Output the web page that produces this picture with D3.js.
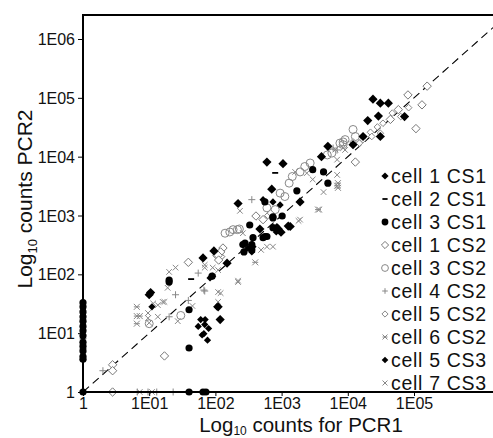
<!DOCTYPE html>
<html><head><meta charset="utf-8">
<script src="https://cdn.jsdelivr.net/npm/d3@7"></script>
<style>body{margin:0;background:#fff}svg{display:block;font-family:"Liberation Sans",Arial,sans-serif}</style>
</head><body><svg id="c" width="493" height="438"></svg>
<script>
// ---- data (counts: [PCR1, PCR2]) ----
const cell1CS1 = [[10,45],[10.5,49],[65,190],[95,250],[150,155],[118,17],[110,28],[220,1600],[600,8100],[1050,7600],[5000,15000],[4000,10000],[24000,95000],[31000,81000],[41000,81000],[29000,49000],[20000,41000],[72000,48000],[31000,22000],[17000,22000],[710,2800],[1900,1700],[1260,660],[890,590],[980,520],[1350,650],[470,590],[12000,16000]];
const cell2CS1 = [[1,11],[1,14],[1,21],[1,26],[43,83],[800,5300]];
const cell3CS1 = [[1,3.6],[1,4],[1,5],[1,6],[1,7],[1,9],[1,11],[1,13],[1,16],[1,19],[1,23],[1,28],[1,33],[1,1],[40,1],[65,1],[72,1],[40,5.6],[40,25],[20,74],[20,80],[89,93],[330,690],[600,440],[525,420],[280,340],[355,320],[355,260],[270,240],[260,320],[370,420],[560,440],[740,620],[740,910],[2950,6000],[4300,5500],[5000,3550],[1700,2630],[560,1700],[740,950],[1020,980]];
const cell1CS2 = [[2.8,2.9],[2.8,2.3],[2.8,1],[17,4.1],[39,160],[105,210],[120,200],[525,850],[410,980],[130,280],[120,240],[110,210],[112,175],[13000,8100],[158000,158000],[132000,76000],[107000,30000],[81000,112000],[58000,63000],[44000,43000]];
const cell3CS2 = [[10,14.5],[30,20],[140,500],[165,525],[185,575],[215,575],[230,590],[4900,10700],[5750,11500],[7600,17000],[8500,17800],[2700,7800],[2240,6800],[1900,5500],[1450,4600],[1300,3550],[950,2400],[1120,2100],[600,1350],[800,1260],[12000,29000],[13000,22000],[9100,19500],[8500,16000]];
const cell4CS2 = [[55,105],[69,52],[25,45],[39,36],[20,19],[355,1860],[67,54],[6.6,1],[9.6,1],[13,1],[23,1],[6900,13000],[6000,14000],[2,2.3],[1,3.5]];
const cell5CS2 = [[83000,68000],[47000,55000],[63000,48000],[34000,37000],[28000,32000],[22000,26000],[23000,22000],[31000,25000],[17000,19500],[15000,17000],[12000,17800],[1,8],[1,5.5],[620,1000],[680,1100]];
const cell6CS2 = [[6.5,28],[6.5,19.5],[6.5,14.5],[7.2,19.5],[7100,3550],[6900,3200],[7100,2950],[400,160],[3550,1260]];
const cell5CS3 = [[60,17],[70,17],[69,14],[55,13],[79,12],[63,9.3],[76,7.6],[67,9.8],[11,28],[91,93],[83,87],[105,28],[525,1860],[740,1700],[950,1510],[850,650],[310,280],[355,240],[370,295],[830,525]];
const cell7CS3 = [[9.6,22],[9.6,18],[10,15],[13.5,30],[16,34],[13.5,19],[27,16],[20,110],[25,130],[19,59],[17,34],[11.5,32],[45,29],[110,50],[110,34],[120,48],[220,74],[69,145],[235,1200],[260,500],[1800,810],[600,295],[740,295],[490,260],[91,130],[110,118],[220,78],[69,130],[1600,5500],[2400,5250],[2950,4100],[6500,13200],[6900,8900],[6900,4900],[4300,2500],[3700,1260],[1900,850],[8500,14000],[9100,13000],[7.2,1],[11,1]];

const seriesNames = ["cell 1 CS1","cell 2 CS1","cell 3 CS1","cell 1 CS2","cell 3 CS2","cell 4 CS2","cell 5 CS2","cell 6 CS2","cell 5 CS3","cell 7 CS3"];
const xTickValues = [1,1e1,1e2,1e3,1e4,1e5];
const xTickLabels = ["1","1E01","1E02","1E03","1E04","1E05"];
const yTickValues = [1,1e1,1e2,1e3,1e4,1e5,1e6];
const yTickLabels = ["1","1E01","1E02","1E03","1E04","1E05","1E06"];

// ---- styles ----
const series = [
  {name:seriesNames[0], data:cell1CS1, shape:"fdiamond", size:4.6, lsize:3.6, color:"#000"},
  {name:seriesNames[1], data:cell2CS1, shape:"dash", size:3, lsize:2.6, color:"#000"},
  {name:seriesNames[2], data:cell3CS1, shape:"fcircle", size:3.6, lsize:3.4, color:"#000"},
  {name:seriesNames[3], data:cell1CS2, shape:"odiamond", size:4.2, lsize:3.6, color:"#777"},
  {name:seriesNames[4], data:cell3CS2, shape:"ocircle", size:4, lsize:3.4, color:"#888"},
  {name:seriesNames[5], data:cell4CS2, shape:"plus", size:3.5, lsize:2.8, color:"#888"},
  {name:seriesNames[6], data:cell5CS2, shape:"odiamond", size:3.3, lsize:3.1, color:"#888"},
  {name:seriesNames[7], data:cell6CS2, shape:"aster", size:3, lsize:2.5, color:"#888"},
  {name:seriesNames[8], data:cell5CS3, shape:"fdiamond", size:3.6, lsize:3.3, color:"#000"},
  {name:seriesNames[9], data:cell7CS3, shape:"cross", size:2.8, lsize:2.5, color:"#888"}
];
const drawOrder = [3,4,6,5,7,9,1,2,0,8];

(function(){
const svg = d3.select("#c");
const pl = 83, pr = 493, pt = 15, pb = 392;
const x = d3.scaleLog().domain([1,1e6]).range([pl, pl + 6*66.2]);
const y = d3.scaleLog().domain([1,1e6]).range([pb, 39]);

svg.append("defs").append("clipPath").attr("id","clip")
  .append("rect").attr("x",pl).attr("y",pt).attr("width",pr-pl).attr("height",pb-pt);

// diagonal
svg.append("line").attr("clip-path","url(#clip)")
  .attr("x1",x(1)).attr("y1",y(1)).attr("x2",x(1e7)).attr("y2",y(1e7))
  .attr("stroke","#000").attr("stroke-width",1.1).attr("stroke-dasharray","8,5");

function marker(g, shape, s, color){
  if(shape==="fdiamond") g.append("path").attr("d",`M0,${-s}L${s},0L0,${s}L${-s},0Z`).attr("fill",color);
  else if(shape==="odiamond") g.append("path").attr("d",`M0,${-s}L${s},0L0,${s}L${-s},0Z`).attr("fill","#fff").attr("stroke",color).attr("stroke-width",1);
  else if(shape==="fcircle") g.append("circle").attr("r",s).attr("fill",color);
  else if(shape==="ocircle") g.append("circle").attr("r",s).attr("fill","none").attr("stroke",color).attr("stroke-width",1);
  else if(shape==="dash") g.append("path").attr("d",`M${-s},0H${s}`).attr("stroke",color).attr("stroke-width",1.8);
  else if(shape==="plus") g.append("path").attr("d",`M${-s},0H${s}M0,${-s}V${s}`).attr("stroke",color).attr("stroke-width",1);
  else if(shape==="cross") g.append("path").attr("d",`M${-s},${-s}L${s},${s}M${-s},${s}L${s},${-s}`).attr("stroke",color).attr("stroke-width",1);
  else if(shape==="aster") g.append("path").attr("d",`M${-s},${-s}L${s},${s}M${-s},${s}L${s},${-s}M${-s},0H${s}`).attr("stroke",color).attr("stroke-width",1);
}

const pts = svg.append("g");
drawOrder.forEach(i=>{
  const se = series[i];
  pts.selectAll(null).data(se.data).enter().append("g")
    .attr("transform",d=>`translate(${x(d[0])},${y(d[1])})`)
    .each(function(){ marker(d3.select(this), se.shape, se.size, se.color); });
});

// axes
const xAxis = svg.append("g").attr("transform",`translate(0,${pb})`)
  .call(d3.axisBottom(x).tickValues(xTickValues).tickFormat((d,i)=>xTickLabels[i]).tickSize(4).tickPadding(2));
const yAxis = svg.append("g").attr("transform",`translate(${pl},0)`)
  .call(d3.axisLeft(y).tickValues(yTickValues).tickFormat((d,i)=>yTickLabels[i]).tickSize(5).tickPadding(3));
[xAxis,yAxis].forEach(a=>{
  a.select(".domain").remove();
  a.selectAll("text").attr("font-family","'Liberation Sans',Arial,sans-serif").attr("font-size",16).attr("fill","#111");
  a.selectAll("line").attr("stroke","#000").attr("stroke-width",1);
});
yAxis.selectAll("text").attr("dy","0.35em");

// frame lines
svg.append("line").attr("x1",pl).attr("x2",pr).attr("y1",pb).attr("y2",pb).attr("stroke","#000").attr("stroke-width",2);
svg.append("line").attr("x1",pl).attr("x2",pl).attr("y1",pt).attr("y2",pb+1).attr("stroke","#000").attr("stroke-width",2);
svg.append("line").attr("x1",pl-1).attr("x2",pr).attr("y1",pt).attr("y2",pt).attr("stroke","#000").attr("stroke-width",2);

// axis titles
const xt = svg.append("text").attr("x",301).attr("y",432).attr("text-anchor","middle").attr("font-size",20.5).attr("fill","#111");
xt.append("tspan").text("Log");
xt.append("tspan").attr("font-size",12).attr("dy",3).text("10");
xt.append("tspan").attr("dy",-3).text(" counts for PCR1");

const yt = svg.append("text").attr("transform","translate(32,199) rotate(-90)").attr("text-anchor","middle").attr("font-size",21).attr("fill","#111");
yt.append("tspan").text("Log");
yt.append("tspan").attr("font-size",13).attr("dy",5).text("10");
yt.append("tspan").attr("dy",-5).text("  counts PCR2");

// legend
const lg = svg.append("g");
series.forEach((se,i)=>{
  const cy = 176 + i*23;
  const g = lg.append("g").attr("transform",`translate(385,${cy})`);
  marker(g, se.shape, se.lsize, se.color);
  lg.append("text").attr("x",391).attr("y",cy+7).attr("font-size",19.5).attr("letter-spacing",0.7).attr("fill","#111").text(se.name);
});
})();
</script></body></html>
